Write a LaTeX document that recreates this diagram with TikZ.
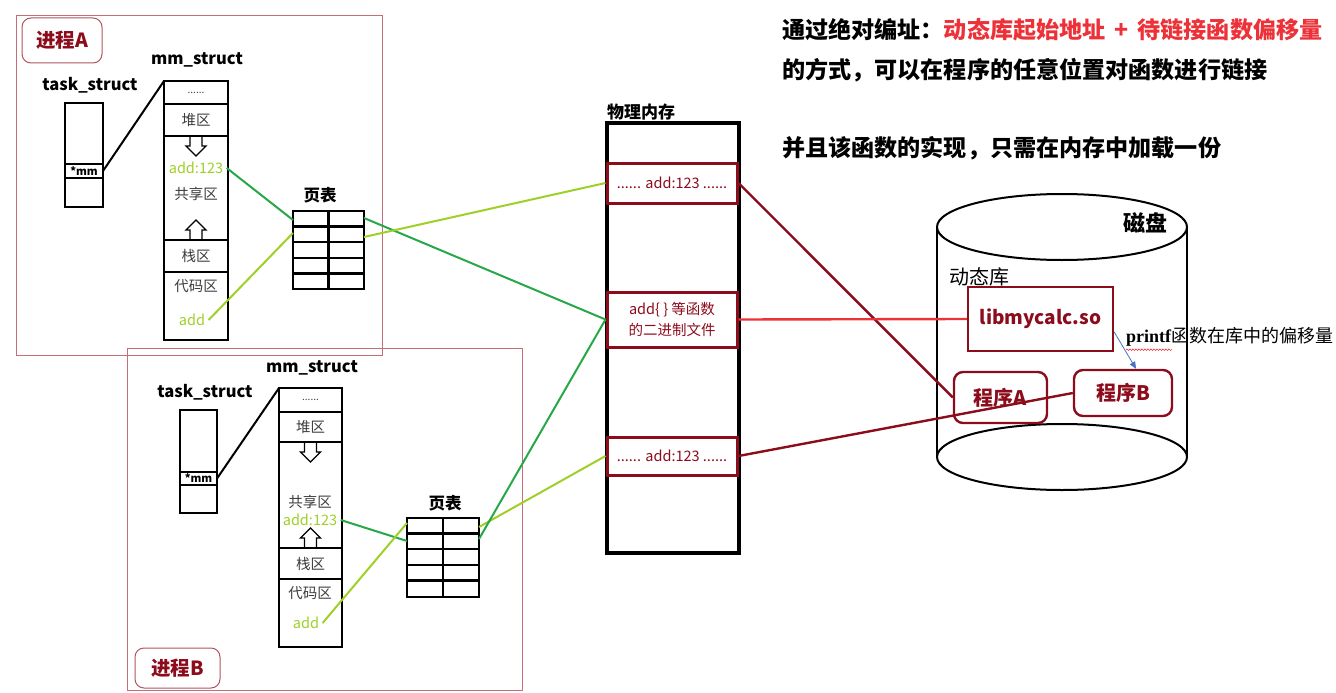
\documentclass[tikz,border=0pt]{standalone}
\usepackage{fontspec}
\setmainfont{Noto Sans CJK SC}
\newfontfamily\timesfont{Liberation Serif}
\usetikzlibrary{positioning,arrows.meta,decorations.pathmorphing}

\definecolor{procred}{RGB}{196,110,122}
\definecolor{darkred}{RGB}{140,12,28}
\definecolor{linkred}{RGB}{236,50,56}
\definecolor{limegreen}{RGB}{158,208,40}
\definecolor{mapgreen}{RGB}{38,168,72}
\definecolor{textgrey}{RGB}{60,60,60}
\definecolor{offblue}{RGB}{70,114,196}

\newcommand{\fs}[1]{\fontsize{#1}{#1}\selectfont}

\begin{document}
\begin{tikzpicture}[x=1pt,y=-1pt]
\tikzset{frame/.style = {draw=procred, line width=1pt, inner sep=0pt, outer sep=0pt},
         proclabel/.style = {draw=darkred!70, rounded corners=9pt, line width=1pt, text=darkred, font=\fs{19.5}\bfseries},
         cell/.style = {draw=black, line width=2.4pt, inner sep=0pt, outer sep=0pt, minimum width=64pt},
         region/.style = {font=\fs{14.5}, text=textgrey},
         title/.style = {font=\fs{16.5}\bfseries},
         slot/.style = {draw=darkred, line width=3pt, minimum width=130pt, inner sep=0pt, text=darkred, font=\fs{14.5}},
         pgbox/.style = {draw=darkred, line width=2.4pt, rounded corners=9pt, text=darkred, font=\fs{20}\bfseries},
         note/.style = {anchor=west, font=\fs{23.1}\bfseries, inner sep=0pt},
         ylink/.style = {draw=limegreen, line width=2pt},
         glink/.style = {draw=mapgreen, line width=2pt},
         rlink/.style = {draw=darkred, line width=2.4pt},
         hollowdown/.pic = {\draw[line width=1.4pt] (-6,0) -- (-6,10) -- (-10,10) -- (0,20) -- (10,10) -- (6,10) -- (6,0);},
         hollowup/.pic = {\draw[line width=1.4pt] (-6,0) -- (-6,-10) -- (-10,-10) -- (0,-20) -- (10,-10) -- (6,-10) -- (6,0);}}

\useasboundingbox (0,0) rectangle (1336,693);

% process frames
\node[frame, minimum width=366pt, minimum height=339pt] (procA) at (199,185.5) {};
\node[frame, minimum width=395pt, minimum height=342pt] (procB) at (324.5,519) {};
\node[proclabel, minimum width=80pt, minimum height=45pt] (nameA) at (62,40.5) {进程A};
\node[proclabel, minimum width=85pt, minimum height=40pt] (nameB) at (177.5,668) {进程B};

% process A
\node[title] (tsA) at (90,85) {task\_struct};
\node[cell, minimum width=38pt, minimum height=61pt] (taskA) at (84,133.5) {};
\node[cell, minimum width=38pt, minimum height=14pt, below=0pt of taskA, font=\fs{11}\bfseries] (ptrA) {*mm};
\node[cell, minimum width=38pt, minimum height=29pt, below=0pt of ptrA] (tailA) {};
\node[title] (msA) at (197,60) {mm\_struct};
\node[cell, minimum height=23pt, region, font=\fs{10}] (dotsA) at (196,92.5) {......};
\node[cell, minimum height=32pt, below=0pt of dotsA, region] (heapA) {堆区};
\node[cell, minimum height=104pt, below=0pt of heapA] (shareA) {};
\node[cell, minimum height=32pt, below=0pt of shareA, region] (stackA) {栈区};
\node[cell, minimum height=68pt, below=0pt of stackA] (codeA) {};
\node[region, text=limegreen] (addrA) at (196,168) {add:123};
\node[region] (shA) at (196,194) {共享区};
\node[region] (cdA) at (196,286) {代码区};
\node[region, text=limegreen] (fnA) at (192,320) {add};
\pic at (heapA.south) {hollowdown};
\pic at (stackA.north) {hollowup};
\node[title] (ptA) at (320,195) {页表};
\node[cell, minimum width=71pt, minimum height=78pt] (tblA) at (328.5,250) {};

% process B
\node[title] (tsB) at (205,392) {task\_struct};
\node[cell, minimum width=37pt, minimum height=62pt] (taskB) at (198.5,441) {};
\node[cell, minimum width=37pt, minimum height=13pt, below=0pt of taskB, font=\fs{11}\bfseries] (ptrB) {*mm};
\node[cell, minimum width=37pt, minimum height=28pt, below=0pt of ptrB] (tailB) {};
\node[title] (msB) at (312,368) {mm\_struct};
\node[cell, minimum width=63pt, minimum height=24pt, region, font=\fs{10}] (dotsB) at (310.5,400) {......};
\node[cell, minimum width=63pt, minimum height=30pt, below=0pt of dotsB, region] (heapB) {堆区};
\node[cell, minimum width=63pt, minimum height=106pt, below=0pt of heapB] (shareB) {};
\node[cell, minimum width=63pt, minimum height=31pt, below=0pt of shareB, region] (stackB) {栈区};
\node[cell, minimum width=63pt, minimum height=68pt, below=0pt of stackB] (codeB) {};
\node[region] (shB) at (310,502) {共享区};
\node[region, text=limegreen] (addrB) at (310,520) {add:123};
\node[region] (cdB) at (310,593) {代码区};
\node[region, text=limegreen] (fnB) at (306,623) {add};
\pic at (heapB.south) {hollowdown};
\pic at (stackB.north) {hollowup};
\node[title] (ptB) at (445,503) {页表};
\node[cell, minimum width=72pt, minimum height=79pt] (tblB) at (443,557.5) {};

% page table grids
\foreach \t in {tblA,tblB} {
  \foreach \i in {1,...,4}
    \draw[line width=2.4pt] ([yshift=-\i*15.6pt]\t.north west) -- ([yshift=-\i*15.6pt]\t.north east);
  \draw[line width=2.4pt] (\t.north) -- (\t.south);
}

% physical memory
\node[title, font=\fs{17}\bfseries] (memT) at (641,112) {物理内存};
\node[draw, line width=4pt, minimum width=132pt, minimum height=430pt, inner sep=0pt, outer sep=0pt] (mem) at (673,338) {};
\node[slot, minimum height=40pt] (slotA) at (672,183) {...... add:123 ......};
\node[slot, minimum height=55pt, align=center] (slotFn) at (672,319.5) {add\{ \} 等函数\\[6pt]的二进制文件};
\node[slot, minimum height=38pt] (slotB) at (672,456) {...... add:123 ......};

% disk
\draw[line width=2pt] (1062,227) ellipse [x radius=125pt, y radius=33pt];
\draw[line width=2pt] (937,227) -- (937,457) (1187,227) -- (1187,457);
\draw[line width=2pt] (1062,457) ellipse [x radius=125pt, y radius=33pt];
\node[font=\fs{22}\bfseries] (diskT) at (1145,223) {磁盘};
\node[font=\fs{20}] (libT) at (979,277) {动态库};
\node[draw=darkred, line width=2.4pt, minimum width=145pt, minimum height=64pt, text=darkred, font=\fs{19}\bfseries] (lib) at (1040.5,319) {libmycalc.so};
\node[pgbox, minimum width=93pt, minimum height=51pt] (progA) at (1000.5,397.5) {程序A};
\node[pgbox, minimum width=98pt, minimum height=46pt] (progB) at (1123,393) {程序B};
\node[anchor=west, font=\fs{18}, inner sep=0pt] (offT) at (1126,337) {{\timesfont\bfseries printf}函数在库中的偏移量};
\draw[linkred, line width=0.6pt, decorate, decoration={snake, amplitude=0.8pt, segment length=3pt}] ([yshift=-3pt]offT.south west) -- ++(46,0);

% notes
\node[note] (noteA) at (782,30) {通过绝对编址：\textcolor{linkred}{动态库起始地址\hspace{9pt}+\hspace{9pt}待链接函数偏移量}};
\node[note] (noteB) at (782,70) {的方式，可以在程序的任意位置对函数进行链接};
\node[note] (noteC) at (782,148) {并且该函数的实现，只需在内存中加载一份};

% links
\draw[black, line width=2pt] (ptrA.east) -- (dotsA.north west);
\draw[black, line width=2pt] (ptrB.east) -- (dotsB.north west);
\draw[glink] (addrA.east) -- ([yshift=-9pt]tblA.north west);
\draw[ylink] (fnA.east) -- ([yshift=-22pt]tblA.north west);
\draw[glink] ([yshift=-7pt]tblA.north east) -- (slotFn.west);
\draw[ylink] ([yshift=-26pt]tblA.north east) -- (slotA.west);
\draw[glink] (addrB.east) -- ([yshift=-23pt]tblB.north west);
\draw[ylink] (fnB.east) -- ([yshift=-5pt]tblB.north west);
\draw[ylink] ([yshift=-9pt]tblB.north east) -- (slotB.west);
\draw[glink] ([yshift=-21pt]tblB.north east) -- (slotFn.west);
\draw[rlink] (slotA.east) -- (progA.west);
\draw[rlink] (slotB.east) -- (progB.west);
\draw[linkred, line width=2.4pt] (slotFn.east) -- (lib.west);
\draw[offblue, line width=0.8pt, -{Triangle[length=7pt,width=6pt]}] ([yshift=-13pt]lib.east) -- ([xshift=13pt]progB.north);
\end{tikzpicture}
\end{document}
